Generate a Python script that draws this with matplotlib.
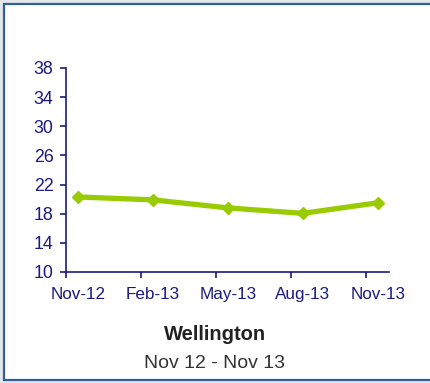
import numpy as np
import matplotlib.pyplot as plt
from matplotlib.patches import Rectangle

months = ['Nov-12', 'Feb-13', 'May-13', 'Aug-13', 'Nov-13']
values = [20.3, 19.9, 18.8, 18.05, 19.5]
yticks = [10, 14, 18, 22, 26, 30, 34, 38]

navy = '#1a1a80'
green = '#99cc00'

plt.rcParams['font.family'] = ['Liberation Sans', 'DejaVu Sans']

fig = plt.figure(figsize=(4.3, 3.83), dpi=100)
fig.patch.set_facecolor('#e4e7ea')
# white panel with blue frame
fig.patches.append(Rectangle((3.5 / 430, 3.5 / 383), 1.0, 1 - 7 / 383,
                             transform=fig.transFigure, facecolor='white',
                             edgecolor='#2f5f9c', linewidth=1.6, zorder=0))

ax = fig.add_axes([66 / 430, 1 - 272 / 383, 323 / 430, 204 / 383])
ax.set_facecolor('none')
ax.set_zorder(2)

x = np.arange(len(months)) + 0.16
ax.plot(x, values, color=green, lw=3.8, marker='D', ms=6, mec=green,
        mfc=green, solid_joinstyle='round', clip_on=False)

ax.set_xlim(0, 4.31)
ax.set_ylim(10, 38)
ax.set_yticks(yticks)
ax.set_xticks(np.arange(len(months)))
ax.set_xticklabels([])
ax.set_xticks(x, minor=True)
ax.set_xticklabels(months, minor=True)

for s in ['top', 'right']:
    ax.spines[s].set_visible(False)
for s in ['left', 'bottom']:
    ax.spines[s].set_color(navy)
    ax.spines[s].set_linewidth(1.2)

ax.tick_params(axis='both', which='major', direction='out', color=navy,
               length=4, width=1.2, labelcolor=navy, labelsize=12.8)
ax.tick_params(axis='y', pad=5)
ax.tick_params(axis='x', which='minor', length=0, pad=11, labelcolor=navy,
               labelsize=12.3)

t1 = fig.text(215 / 430, 1 - 335 / 383, 'Wellington', ha='center', va='center',
              fontsize=14.5, fontweight='bold', color='#222222')
t2 = fig.text(215 / 430, 1 - 363 / 383, 'Nov 12 - Nov 13', ha='center',
              va='center', fontsize=14, color='#333333')
t1.set_zorder(3)
t2.set_zorder(3)

fig.savefig('out.png', dpi=100, facecolor=fig.get_facecolor())
